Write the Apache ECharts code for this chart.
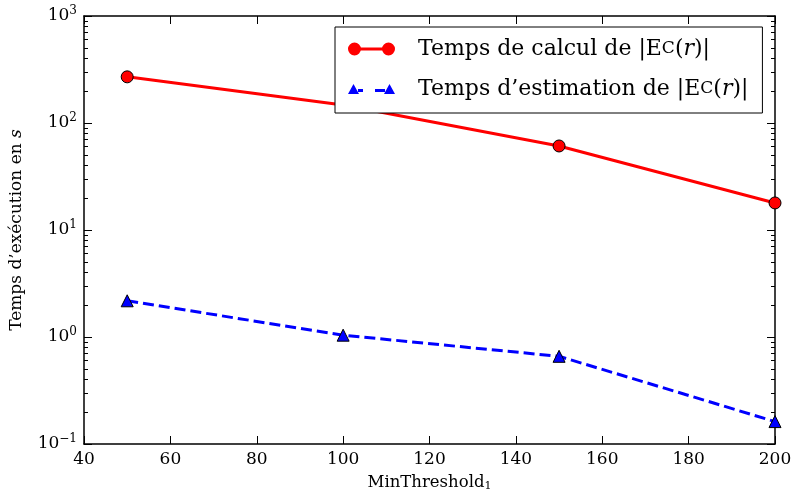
<!DOCTYPE html>
<html><head><meta charset="utf-8">
<script src="https://cdn.jsdelivr.net/npm/echarts@6/dist/echarts.min.js"></script>
<style>html,body{margin:0;padding:0;background:#fff}#c{width:791px;height:490px}</style>
</head><body><div id="c"></div>
<script>
const thresholds = [50, 100, 150, 200];
const calcTimes = [270, 147, 61, 17.9];
const estimTimes = [2.18, 1.04, 0.66, 0.162];
const xTicks = [40, 60, 80, 100, 120, 140, 160, 180, 200];
const yMajor = [0.1, 1, 10, 100, 1000];
const yMinor = [0.2, 0.3, 0.4, 0.5, 0.6, 0.7, 0.8, 0.9,
                2, 3, 4, 5, 6, 7, 8, 9,
                20, 30, 40, 50, 60, 70, 80, 90,
                200, 300, 400, 500, 600, 700, 800, 900];
const seriesNames = ['Temps de calcul de |Ec(r)|', "Temps d\u2019estimation de |Ec(r)|"];
const legendLabels = ['Temps de calcul de |E{sc|C}({i|r})|', 'Temps d\u2019estimation de |E{sc|C}({i|r})|'];
const xName = 'MinThreshold';
const yName = 'Temps d\u2019ex\u00e9cution en ';

const FF = 'DejaVu Serif';
const black = '#000';
const chart = echarts.init(document.getElementById('c'));
const axLine = {show: true, onZero: false, lineStyle: {color: black, width: 1.5}};
const mkX = (pos, show) => ({
  type: 'value', min: xTicks[0], max: xTicks[xTicks.length - 1], interval: xTicks[1] - xTicks[0],
  position: pos, axisLine: axLine,
  axisTick: {show: true, inside: true, length: 8, lineStyle: {color: black, width: 1}},
  axisLabel: {show: show, fontFamily: FF, fontSize: 17, color: black, margin: 7},
  splitLine: {show: false}
});
const mkY = (pos, major, show) => ({
  type: 'log', logBase: 10, min: yMajor[0], max: yMajor[yMajor.length - 1],
  position: pos, axisLine: major ? axLine : {show: false},
  axisTick: major ? {show: true, inside: true, length: 8, lineStyle: {color: black, width: 1}}
                  : {show: true, inside: true, length: 4, customValues: yMinor, lineStyle: {color: black, width: 1}},
  axisLabel: {
    show: show, margin: 7, color: black,
    formatter: v => { const e = Math.round(Math.log10(v)); return '{b|10}{e|' + (e < 0 ? '\u2212' + (-e) : e) + '}'; },
    rich: {b: {fontFamily: FF, fontSize: 17, color: black}, e: {fontFamily: FF, fontSize: 12, color: black, padding: [0, 0, 10, 0]}}
  },
  splitLine: {show: false}
});
const xAxes = [mkX('bottom', true), mkX('top', false)];
xAxes[0].name = '{t|' + xName + '}{s|1}';
xAxes[0].nameLocation = 'middle';
xAxes[0].nameGap = 29;
xAxes[0].nameTextStyle = {rich: {t: {fontFamily: FF, fontSize: 16.5, color: black}, s: {fontFamily: FF, fontSize: 11, color: black, padding: [8, 0, 0, 0]}}};
const yAxes = [mkY('left', true, true), mkY('right', true, false), mkY('left', false, false), mkY('right', false, false)];
yAxes[0].name = '{t|' + yName + '}{i|s}';
yAxes[0].nameLocation = 'middle';
yAxes[0].nameGap = 59;
yAxes[0].nameTextStyle = {rich: {t: {fontFamily: FF, fontSize: 17, color: black}, i: {fontFamily: FF, fontSize: 17, fontStyle: 'italic', color: black}}};

const redIcon = 'path://M0,6.5A6.5,6.5 0 1 1 13,6.5A6.5,6.5 0 1 1 0,6.5Z M34,6.5A6.5,6.5 0 1 1 47,6.5A6.5,6.5 0 1 1 34,6.5Z M6,5L41,5L41,8L6,8Z';
const blueIcon = 'path://M0,10L5.5,0L11,10Z M10,5L15,5L15,8L10,8Z M27,5L37,5L37,8L27,8Z M36,10L41.5,0L47,10Z';

chart.setOption({
  animation: false,
  backgroundColor: '#fff',
  grid: {left: 84, right: 16, top: 16, bottom: 46, containLabel: false, outerBoundsMode: 'none'},
  xAxis: xAxes,
  yAxis: yAxes,
  legend: {
    orient: 'vertical', left: 335, top: 27, z: 10,
    backgroundColor: '#fff', borderColor: black, borderWidth: 1,
    padding: [10, 14, 12, 13], itemGap: 16, itemWidth: 47, itemHeight: 13,
    data: [{name: seriesNames[0], icon: redIcon, itemStyle: {borderWidth: 0}},
           {name: seriesNames[1], icon: blueIcon, itemStyle: {borderWidth: 0}}],
    formatter: n => legendLabels[seriesNames.indexOf(n)],
    textStyle: {fontFamily: FF, fontSize: 22, color: black, lineHeight: 24, padding: [0, 0, 0, 18],
      rich: {sc: {fontFamily: FF, fontSize: 17, color: black}, i: {fontFamily: FF, fontSize: 22, fontStyle: 'italic', color: black}}}
  },
  series: [
    {name: seriesNames[0], type: 'line', data: thresholds.map((x, i) => [x, calcTimes[i]]),
     symbol: 'circle', symbolSize: 12, color: '#ff0000',
     lineStyle: {color: '#ff0000', width: 3},
     itemStyle: {color: '#ff0000', borderColor: black, borderWidth: 1}},
    {name: seriesNames[1], type: 'line', data: thresholds.map((x, i) => [x, estimTimes[i]]),
     symbol: 'triangle', symbolSize: 12, color: '#0000ff',
     lineStyle: {color: '#0000ff', width: 3, type: [11, 5]},
     itemStyle: {color: '#0000ff', borderColor: black, borderWidth: 1}}
  ]
});
</script></body></html>
